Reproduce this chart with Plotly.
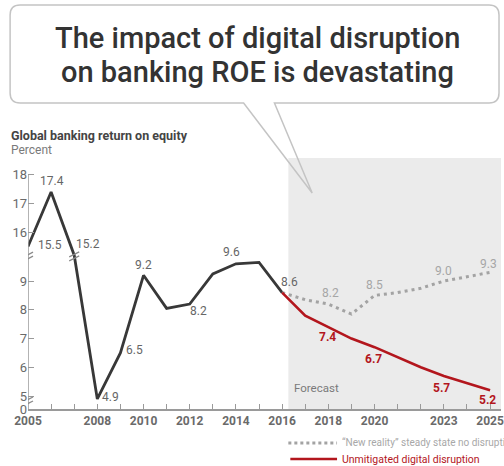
import plotly.graph_objects as go

# ---------------- data ----------------
years_hist = list(range(2005, 2017))
roe_hist = [15.5, 17.4, 15.2, 4.9, 6.5, 9.2, 8.05, 8.2, 9.25, 9.6, 9.65, 8.6]
hist_label_years = [2005, 2006, 2007, 2008, 2009, 2010, 2012, 2014, 2016]

years_fc = list(range(2016, 2026))
new_reality = [8.6, 8.35, 8.2, 7.85, 8.5, 8.6, 8.75, 9.0, 9.15, 9.3]
disruption = [8.6, 7.8, 7.4, 7.0, 6.7, 6.35, 6.0, 5.7, 5.45, 5.2]
fc_label_years = [2018, 2020, 2023, 2025]

y_tick_values = [0, 5, 6, 7, 8, 9, 16, 17, 18]
x_tick_labels = [2005, 2008, 2010, 2012, 2014, 2016, 2018, 2020, 2023, 2025]

title_lines = ["The impact of digital disruption", "on banking ROE is devastating"]
chart_title = "Global banking return on equity"
unit_label = "Percent"
legend_labels = ["\u201cNew reality\u201d steady state no disruption", "Unmitigated digital disruption"]
forecast_label = "Forecast"
forecast_start = 2016.27

# ---------------- layout constants ----------------
W, H = 504, 466
ML, MR, MT, MB = 28, 0, 158, 57
PW, PH = W - ML - MR, H - MT - MB
BOTTOM_PX = H - MB
PX_PER_YEAR = 23.25
Y_LOW, Y_HIGH = 4.55, 13.28
BREAK_SHIFT = 5.3

RED = "#b3161d"
DARK = "#383838"
GREY_DOT = "#a3a3a3"
FONT = "Roboto"


def brk(v):
    """broken-axis transform: upper block (15-18) shifted down, 0 pinned at baseline"""
    if v >= 12:
        return v - BREAK_SHIFT
    if v >= 4:
        return v
    return Y_LOW


def px(x):
    return (x - ML) / PW


def py(y):
    return (BOTTOM_PX - y) / PH


fig = go.Figure()

fig.add_trace(go.Scatter(x=years_hist, y=[brk(v) for v in roe_hist], mode="lines",
                         line=dict(color=DARK, width=2.8), hoverinfo="skip"))
fig.add_trace(go.Scatter(x=years_fc, y=[brk(v) for v in new_reality], mode="lines",
                         line=dict(color=GREY_DOT, width=3, dash="3px,4px"), hoverinfo="skip"))
fig.add_trace(go.Scatter(x=years_fc, y=[brk(v) for v in disruption], mode="lines",
                         line=dict(color=RED, width=2.6), hoverinfo="skip"))

shapes = []
# forecast shading
shapes.append(dict(type="rect", xref="x", yref="paper", x0=forecast_start, x1=2027, y0=0, y1=1,
                   fillcolor="#ebebeb", line=dict(width=0), layer="below"))
# y-axis line (ends at 18)
shapes.append(dict(type="line", xref="x", yref="y", x0=2005, x1=2005, y0=Y_LOW, y1=brk(18),
                   line=dict(color="#9a9a9a", width=1.5)))


def break_mark(xa, ya):
    for dy in (0, 4):
        shapes.append(dict(type="line", xref="x", yref="y", xsizemode="pixel", ysizemode="pixel",
                           xanchor=xa, yanchor=ya, x0=-5, x1=5, y0=-4 + dy, y1=1 + dy,
                           line=dict(color="#8a8a8a", width=1.3)))


break_mark(2005, (9 + brk(16)) / 2 - 0.02)
break_mark(2005, (Y_LOW + 5) / 2 + 0.02)
break_mark(2007, brk(15.2) - 0.06)

# speech bubble
bx0, by0, bx1, by1, r = 10, 5, 502, 103, 10
tail_l, tail_r, tip = 245, 276, (314, 193)


def P(x, y):
    return f"{px(x):.5f},{py(y):.5f}"


path = (f"M{P(bx0 + r, by0)} L{P(bx1 - r, by0)} Q{P(bx1, by0)} {P(bx1, by0 + r)} "
        f"L{P(bx1, by1 - r)} Q{P(bx1, by1)} {P(bx1 - r, by1)} L{P(tail_r, by1)} "
        f"L{P(*tip)} L{P(tail_l, by1)} L{P(bx0 + r, by1)} Q{P(bx0, by1)} {P(bx0, by1 - r)} "
        f"L{P(bx0, by0 + r)} Q{P(bx0, by0)} {P(bx0 + r, by0)} Z")
shapes.append(dict(type="path", xref="paper", yref="paper", path=path,
                   line=dict(color="#c4c4c4", width=1.5), fillcolor="rgba(0,0,0,0)"))

# custom legend samples
shapes.append(dict(type="line", xref="paper", yref="paper", x0=px(290), x1=px(339), y0=py(443), y1=py(443),
                   line=dict(color=GREY_DOT, width=3, dash="3px,3px")))
shapes.append(dict(type="line", xref="paper", yref="paper", x0=px(292), x1=px(339), y0=py(459), y1=py(459),
                   line=dict(color=RED, width=2.6)))

ann = []
ann.append(dict(xref="paper", yref="paper", x=px(259), y=py(38), text=title_lines[0], showarrow=False,
                xanchor="center", yanchor="middle",
                font=dict(family=FONT, size=29, color="#333333", weight=500)))
ann.append(dict(xref="paper", yref="paper", x=px(259), y=py(72), text=title_lines[1], showarrow=False,
                xanchor="center", yanchor="middle",
                font=dict(family=FONT, size=29, color="#333333", weight=500)))
ann.append(dict(xref="paper", yref="paper", x=px(9), y=py(135), text=chart_title, showarrow=False,
                xanchor="left", yanchor="middle",
                font=dict(family=FONT, size=12.5, color="#444444", weight="bold")))
ann.append(dict(xref="paper", yref="paper", x=px(9), y=py(150), text=unit_label, showarrow=False,
                xanchor="left", yanchor="middle", font=dict(family=FONT, size=12, color="#7a7a7a")))
ann.append(dict(xref="paper", yref="paper", x=px(294), y=py(388), text=forecast_label, showarrow=False,
                xanchor="left", yanchor="middle", font=dict(family=FONT, size=11.5, color="#7a7a7a")))
ann.append(dict(xref="paper", yref="paper", x=px(342), y=py(443), text=legend_labels[0], showarrow=False,
                xanchor="left", yanchor="middle", font=dict(family=FONT, size=10, color="#a8a8a8")))
ann.append(dict(xref="paper", yref="paper", x=px(342), y=py(459), text=legend_labels[1], showarrow=False,
                xanchor="left", yanchor="middle", font=dict(family=FONT, size=10.5, color=RED)))

hist_offsets = {2005: (22, 2), 2006: (1, 11), 2007: (14, 11), 2008: (13, 2), 2009: (14, 3),
                2010: (0, 10), 2012: (9, -7), 2014: (-4, 12), 2016: (7, 11)}
for yr in hist_label_years:
    v = roe_hist[years_hist.index(yr)]
    dx, dy = hist_offsets[yr]
    ann.append(dict(x=yr, y=brk(v), text=f"{v:.1f}", showarrow=False, xshift=dx, yshift=dy,
                    font=dict(family=FONT, size=12, color="#666666")))

nr_offsets = {2018: (2, 11), 2020: (0, 10), 2023: (0, 10), 2025: (-2, 8)}
dd_offsets = {2018: (-1, -10), 2020: (-1, -12), 2023: (-2, -12), 2025: (-3, -10)}
for yr in fc_label_years:
    i = years_fc.index(yr)
    v = new_reality[i]
    dx, dy = nr_offsets[yr]
    ann.append(dict(x=yr, y=brk(v), text=f"{v:.1f}", showarrow=False, xshift=dx, yshift=dy,
                    font=dict(family=FONT, size=12, color="#a6a6a6")))
    v = disruption[i]
    dx, dy = dd_offsets[yr]
    ann.append(dict(x=yr, y=brk(v), text=f"{v:.1f}", showarrow=False, xshift=dx, yshift=dy,
                    font=dict(family=FONT, size=12, color=RED, weight="bold")))

all_years = list(range(2005, 2026))
fig.update_layout(
    width=W, height=H, showlegend=False,
    margin=dict(l=ML, r=MR, t=MT, b=MB, pad=0),
    paper_bgcolor="white", plot_bgcolor="white",
    shapes=shapes, annotations=ann,
    xaxis=dict(range=[2005, 2005 + PW / PX_PER_YEAR], showgrid=False, zeroline=False,
               showline=True, linecolor="#9a9a9a", linewidth=1.5,
               ticks="inside", ticklen=5, tickcolor="#9a9a9a", tickwidth=1.2,
               tickvals=all_years, ticklabeloverflow="allow",
               ticktext=[str(y) if y in x_tick_labels else "" for y in all_years],
               tickfont=dict(family=FONT, size=12, color="#6a6a6a", weight="bold")),
    yaxis=dict(range=[Y_LOW, Y_HIGH], showgrid=False, zeroline=False, showline=False,
               ticks="inside", ticklen=6, tickcolor="#9a9a9a", tickwidth=1.2,
               tickvals=[brk(v) for v in y_tick_values],
               ticktext=[str(v) for v in y_tick_values],
               tickfont=dict(family=FONT, size=13, color="#6a6a6a")),
)

fig.write_html("out.html", config={"displayModeBar": False},
               post_script="document.body.style.margin='0';document.body.style.overflow='hidden';")
